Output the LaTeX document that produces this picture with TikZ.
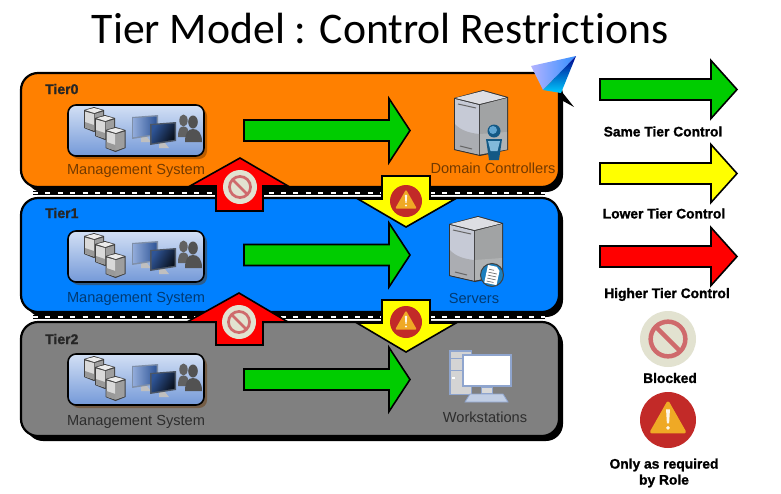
\documentclass[tikz,border=0pt]{standalone}
\usepackage{fontspec}
\setmainfont{Liberation Sans}[BoldFeatures={FakeBold=1.2}]
\newfontfamily\titlefont{Carlito}[Ligatures=NoCommon]
\usetikzlibrary{shadows,calc}
\definecolor{tOrange}{HTML}{FF8000}
\definecolor{tBlue}{HTML}{0080FF}
\definecolor{tGray}{HTML}{808080}
\definecolor{tGreen}{HTML}{00CC00}
\definecolor{tRed}{HTML}{FF0000}
\definecolor{tYellow}{HTML}{FFFF00}
\definecolor{iconRed}{HTML}{C22A28}
\definecolor{iconAmber}{HTML}{EFA925}
\definecolor{blockBg}{HTML}{E2E2D0}
\definecolor{blockRing}{HTML}{CF6A6C}
\definecolor{mgTop}{HTML}{D3E0F5}
\definecolor{mgBot}{HTML}{7499D8}
\definecolor{srvLeft}{HTML}{C6CAD6}
\definecolor{srvLow}{HTML}{ABADB2}
\definecolor{srvRight}{HTML}{A1A3A4}
\definecolor{srvTop}{HTML}{DDDEE3}
\definecolor{wsEdge}{HTML}{8FA5CE}
\definecolor{scrA}{HTML}{2F5597}
\definecolor{scrB}{HTML}{8FA9D8}
\definecolor{bezel}{HTML}{7F8FA8}
\definecolor{badge}{HTML}{1C7FBE}
\tikzset{
  panel/.style={draw=black,line width=2.2pt,rounded corners=17pt},
  shadowpanel/.style={fill=black,rounded corners=17pt},
  blockarrow/.style={draw=black,line width=1.6pt,miter limit=10},
  tiername/.style={font=\bfseries\fontsize{14}{16}\selectfont,text=black!85,inner sep=0pt},
  sublabel/.style={font=\fontsize{14.6}{16}\selectfont,inner sep=0pt},
  legendlabel/.style={font=\bfseries\fontsize{13.8}{16}\selectfont,inner sep=0pt,align=center},
  pics/blockedicon/.style={code={
    \fill[blockBg] (0,0) circle (#1);
    \draw[blockRing,line width=0.16*#1 pt] (0,0) circle (0.62*#1);
    \draw[blockRing,line width=0.16*#1 pt] (-0.44*#1,-0.44*#1) -- (0.44*#1,0.44*#1);
  }},
  pics/warnicon/.style={code={
    \fill[iconRed] (0,0) circle (#1);
    \fill[iconAmber,draw=iconAmber,line width=0.12*#1 pt,line join=round]
      (0,-0.6*#1) -- (0.58*#1,0.42*#1) -- (-0.58*#1,0.42*#1) -- cycle;
    \fill[white!90!iconAmber] (-0.07*#1,-0.38*#1) -- (0.07*#1,-0.38*#1) -- (0.04*#1,0.12*#1) -- (-0.04*#1,0.12*#1) -- cycle;
    \fill[white!90!iconAmber] (0,0.28*#1) circle (0.07*#1);
  }},
  pics/minibox/.style={code={
    \fill[black!75] (0,3) -- (10,0) -- (20,3) -- (20,21) -- (10,25) -- (0,21) -- cycle;
    \fill[black!15] (1,4.5) -- (10,7) -- (10,23.5) -- (1,20.5) -- cycle;
    \fill[black!38] (10.7,7) -- (19,4.5) -- (19,20.5) -- (10.7,23.5) -- cycle;
    \fill[black!8] (1.5,3.2) -- (10,1) -- (18.5,3.2) -- (10.3,6) -- cycle;
    \fill[black!40] (1,15) -- (10,18) -- (10,23.5) -- (1,20.5) -- cycle;
  }},
  pics/screen/.style={code={
    \fill[black!25] (9,22) -- (15,22) -- (19,27) -- (9,27) -- cycle;
    \fill[bezel] (0,2) -- (26,0) -- (26,20) -- (0,24) -- cycle;
    \shade[left color=scrB,right color=scrA] (1.5,3.2) -- (24.5,1.5) -- (24.5,18.7) -- (1.5,22.3) -- cycle;
  }},
  pics/screendark/.style={code={
    \fill[black!25] (9,21) -- (15,21) -- (19,26) -- (9,26) -- cycle;
    \fill[bezel!60!black] (0,2) -- (26,0) -- (26,19) -- (0,23) -- cycle;
    \shade[left color=scrA,right color=black!80!scrA,shading angle=60] (1.5,3.2) -- (24.5,1.5) -- (24.5,17.7) -- (1.5,21.3) -- cycle;
  }},
  pics/people/.style={code={
    \fill[black!62] (5.5,5.5) circle (4.2 and 6);
    \fill[black!62] (0,22) .. controls (0,14) and (2,11.5) .. (5.5,11.5) .. controls (9,11.5) and (11,14) .. (11,22) -- cycle;
    \fill[black!68] (15,7) circle (4.8 and 6.5);
    \fill[black!68] (7,27) .. controls (7,18) and (10,14) .. (15,14) .. controls (20,14) and (24,18) .. (24,27) -- cycle;
  }},
  pics/mgmticon/.style={code={
    \fill[black!60!tOrange,opacity=.45] (3,3) [rounded corners=8pt] rectangle (139,54);
    \draw[line width=1.6pt,draw=black,rounded corners=8pt,top color=mgTop,bottom color=mgBot] (0,0) rectangle (136,51);
    \pic at (16,2) {minibox};
    \pic at (27,10) {minibox};
    \pic at (37.5,22) {minibox};
    \pic at (64,10) {screen};
    \pic at (82,17) {screendark};
    \pic at (110,10) {people};
  }},
  pics/towersrv/.style={code={
    \fill[black!80] (0,8) -- (29,0) -- (54,7) -- (54,60) -- (26,66) -- (0,60) -- cycle;
    \fill[srvLeft] (1,9) -- (25,15) -- (25,64.5) -- (1,59) -- cycle;
    \fill[srvRight] (26,15) -- (53,8) -- (53,59.5) -- (26,64.5) -- cycle;
    \fill[srvTop] (1.5,8) -- (29,1) -- (52,7.5) -- (25.5,14) -- cycle;
    \fill[srvLow] (1,34) .. controls (6,40) and (15,43) .. (25,44) -- (25,64.5) -- (1,59) -- cycle;
    \fill[black!12,opacity=.25] (26,44) -- (53,42) -- (53,59.5) -- (26,64.5) -- cycle;
    \draw[black!60,line width=1pt] (4,14) -- (22,18);
    \draw[black!60,line width=1pt] (6,56) -- (18,59);
  }},
  pics/person/.style={code={
    \fill[badge!70!black] (-8,8) -- (8,8) -- (5,29) -- (-5,29) -- cycle;
    \fill[badge!55!white] (-6,10) -- (6,10) -- (3.5,20) -- (-3.5,20) -- cycle;
    \fill[badge!70!black] (0,0) circle (6.5);
    \fill[badge!70!white] (-1,-1) circle (4);
  }},
  pics/docbadge/.style={code={
    \draw[black!75,line width=1pt,fill=badge] (0,0) circle (11.5);
    \begin{scope}[rotate=-12]
    \fill[white] (-6,-9) -- (3,-9) -- (6.5,-5.5) -- (6.5,9) -- (-6,9) -- cycle;
    \draw[black!55,line width=0.7pt] (-4,-5) -- (1,-5) (-4,-2) -- (4.5,-2) (-4,1) -- (4.5,1) (-4,4) -- (4.5,4) (-4,7) -- (3,7);
    \end{scope}
  }},
  pics/pctower/.style={code={
    \fill[wsEdge] (0,0) rectangle (23,45);
    \fill[black!17] (1.5,1.5) rectangle (21.5,43.5);
    \draw[wsEdge,line width=1pt] (1.5,8) -- (21.5,8) (1.5,20) -- (21.5,20);
    \fill[white] (3,26.5) rectangle (5.5,29);
    \fill[wsEdge] (13,4) rectangle (63,37);
    \fill[white] (15,6) rectangle (61,35);
    \fill[black!15] (32,37) rectangle (43,43);
    \draw[wsEdge,line width=0.8pt] (32,37) rectangle (43,43);
    \fill[wsEdge!55!white,draw=wsEdge,line width=0.8pt] (21,44) -- (54,44) -- (59,52) -- (16,52) -- cycle;
  }},
}
\newcommand{\greenarrow}[4][tGreen]{%
  \draw[blockarrow,fill=#1] (#2,#3-10.5) -- (#4-21,#3-10.5) -- (#4-21,#3-32) -- (#4,#3) -- (#4-21,#3+32) -- (#4-21,#3+10.5) -- (#2,#3+10.5) -- cycle;}
\newcommand{\legendarrow}[2]{%
  \draw[blockarrow,fill=#1] (600,#2-10.5) -- (711,#2-10.5) -- (711,#2-29) -- (737,#2) -- (711,#2+29) -- (711,#2+10.5) -- (600,#2+10.5) -- cycle;}
\begin{document}
\begin{tikzpicture}[x=1pt,y=-1pt]
\useasboundingbox (0,0) rectangle (781,493);
\fill[white] (0,0) rectangle (781,493);
\node[inner sep=0pt,font=\titlefont\fontsize{43.7}{48}\selectfont] (title) at (380,28) {Tier Model : Control Restrictions};
% shadows
\foreach \t in {73,198,322}{
  \fill[shadowpanel] (26,\t+5) rectangle (563,\t+119);
}
% separators
\draw[black,line width=4.5pt] (33,193) -- (545,193);
\draw[white,line width=2.4pt,dash pattern=on 5pt off 7.4pt] (33,193) -- (545,193);
\draw[black,line width=4.5pt] (33,317) -- (545,317);
\draw[white,line width=2.4pt,dash pattern=on 5pt off 7.4pt] (33,317) -- (545,317);
% panels
\draw[panel,fill=tOrange] (21,73) rectangle (559,187);
\draw[panel,fill=tBlue] (21,198) rectangle (559,312);
\draw[panel,fill=tGray] (21,322) rectangle (559,436);
\node[tiername,anchor=west] (t0) at (45,89) {Tier0};
\node[tiername,anchor=west] (t1) at (45,213) {Tier1};
\node[tiername,anchor=west] (t2) at (45,339) {Tier2};
% management
\pic at (68,105) {mgmticon};
\pic at (68,231) {mgmticon};
\pic at (68,354) {mgmticon};
\node[sublabel,text=black!55!tOrange] (m0) at (136,171) {Management System};
\node[sublabel,text=black!55!tBlue] (m1) at (136,298.5) {Management System};
\node[sublabel,text=black!65!tGray] (m2) at (136,422) {Management System};
% green arrows
\greenarrow{244}{130.5}{410}
\greenarrow{244}{255}{410}
\greenarrow{244}{379.5}{410}
% right icons
\pic at (454,90) {towersrv};
\pic at (494,131) {person};
\node[sublabel,text=black!55!tOrange] (dc) at (493,168.5) {Domain Controllers};
\pic at (449,216) {towersrv};
\pic at (492,275) {docbadge};
\node[sublabel,text=black!55!tBlue] (sv) at (474,298) {Servers};
\pic at (449,350) {pctower};
\node[sublabel,text=black!65!tGray] (ws) at (485,417) {Workstations};
% red arrows
\draw[blockarrow,fill=tRed] (216,211) -- (216,186) -- (190,186) -- (240,158) -- (288,186) -- (263,186) -- (263,211) -- cycle;
\pic at (240,187) {blockedicon=17};
\draw[blockarrow,fill=tRed] (216,345) -- (216,322) -- (187,322) -- (239,293) -- (288,322) -- (263,322) -- (263,345) -- cycle;
\pic at (239,322) {blockedicon=17};
% yellow arrows
\draw[blockarrow,fill=tYellow] (382,176) -- (430,176) -- (430,199) -- (455,199) -- (406,227) -- (358,199) -- (382,199) -- cycle;
\pic at (406,201) {warnicon=16};
\draw[blockarrow,fill=tYellow] (382,300) -- (430,300) -- (430,323) -- (456,323) -- (406,352) -- (357,323) -- (382,323) -- cycle;
\pic at (406,322) {warnicon=16};
% pyramid
\fill[black] (562,92) -- (574,107) -- (563,101) -- cycle;
\shade[left color=blue!30!white,right color=blue!55!cyan!80!white] (531,66) -- (576,56) -- (543,90) -- cycle;
\shade[top color=blue!55!black,bottom color=cyan!80!blue] (576,56) -- (561,93) -- (543,90) -- cycle;
% legend
\legendarrow{tGreen}{89.5}
\legendarrow{tYellow}{173.5}
\legendarrow{tRed}{256.5}
\node[legendlabel] (l1) at (663,131.5) {Same Tier Control};
\node[legendlabel] (l2) at (664,213.5) {Lower Tier Control};
\node[legendlabel] (l3) at (667,294.5) {Higher Tier Control};
\pic at (668,339) {blockedicon=28};
\node[legendlabel] (l4) at (670,378) {Blocked};
\pic at (668,420) {warnicon=28};
\node[legendlabel] (l5) at (664,465) {Only as required};
\node[legendlabel] (l6) at (664,481) {by Role};
\end{tikzpicture}
\end{document}
